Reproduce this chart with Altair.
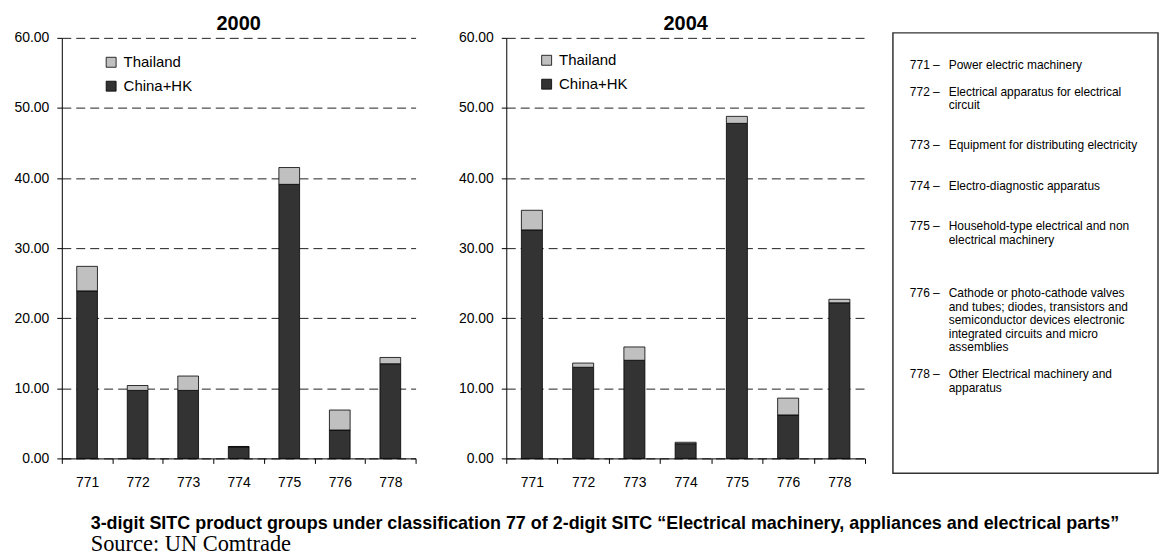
import altair as alt
import pandas as pd

# ---------------- data ----------------
codes = ["771", "772", "773", "774", "775", "776", "778"]
china_2000 = [23.9, 9.7, 9.7, 1.65, 39.1, 4.05, 13.5]
thai_2000 = [3.5, 0.7, 2.05, 0.05, 2.4, 2.85, 0.9]
china_2004 = [32.6, 13.0, 14.0, 2.1, 47.8, 6.2, 22.2]
thai_2004 = [2.8, 0.6, 1.9, 0.2, 1.0, 2.4, 0.5]
years = ["2000", "2004"]
series = ["Thailand", "China+HK"]
series_colors = ["#c0c0c0", "#333333"]
y_ticks = [0, 10, 20, 30, 40, 50, 60]

box_codes = ["771", "772", "773", "774", "775", "776", "778"]
box_desc = [
    ["Power electric machinery"],
    ["Electrical apparatus for electrical", "circuit"],
    ["Equipment for distributing electricity"],
    ["Electro-diagnostic apparatus"],
    ["Household-type electrical and non", "electrical machinery"],
    ["Cathode or photo-cathode valves", "and tubes;  diodes, transistors and",
     "semiconductor devices electronic", "integrated circuits and micro", "assemblies"],
    ["Other Electrical machinery and", "apparatus"],
]
caption = ("3-digit SITC product groups under classification 77 of 2-digit SITC "
           "\u201cElectrical machinery, appliances and electrical parts\u201d")
source = "Source: UN Comtrade"

FONT = "Liberation Sans"


def panel(year, china, thai, width, leg_x, leg_y):
    df = pd.DataFrame({
        "code": codes + codes,
        "series": ["China+HK"] * len(codes) + ["Thailand"] * len(codes),
        "value": china + thai,
        "stackorder": [0] * len(codes) + [1] * len(codes),
    })
    return alt.Chart(
        df,
        title=alt.TitleParams(year, fontSize=20, fontWeight="bold", font=FONT,
                              color="black", offset=-3),
    ).mark_bar(stroke="black", strokeWidth=0.8,
               width=alt.RelativeBandSize(0.41)).encode(
        x=alt.X("code:N", sort=codes, title=None,
                scale=alt.Scale(paddingInner=0, paddingOuter=0),
                axis=alt.Axis(labelAngle=0, tickBand="extent", labelFontSize=14,
                              labelColor="black", labelPadding=12, tickSize=5,
                              tickColor="black", domainColor="black", grid=False)),
        y=alt.Y("value:Q", stack="zero", title=None,
                scale=alt.Scale(domain=[0, 60], nice=False),
                axis=alt.Axis(values=y_ticks, format=".2f", labelFontSize=14,
                              labelColor="black", labelPadding=8, tickSize=5,
                              tickColor="black", domainColor="black", grid=True,
                              gridColor="#222222", gridDash=[9, 5], gridWidth=1)),
        color=alt.Color("series:N",
                        scale=alt.Scale(domain=series, range=series_colors),
                        legend=alt.Legend(orient="none", legendX=leg_x, legendY=leg_y,
                                          title=None, symbolType="square",
                                          symbolSize=100, symbolStrokeColor="black",
                                          symbolStrokeWidth=0.8, labelFontSize=15,
                                          labelColor="black", labelOffset=5,
                                          rowPadding=8, padding=0)),
        order=alt.Order("stackorder:Q", sort="ascending"),
    ).properties(width=width, height=422)


p2000 = panel(years[0], china_2000, thai_2000, 355, 42, 17)
p2004 = panel(years[1], china_2004, thai_2004, 360, 33, 15)

# ---------------- description box ----------------
gap_after = [1, 2, 2, 2, 3, 1, 0]   # blank text lines after each item
rows = []
r = 0
for code, lines, gap in zip(box_codes, box_desc, gap_after):
    for j, line in enumerate(lines):
        rows.append({"row": r, "code": (code + " \u2013") if j == 0 else "", "desc": line})
        r += 1
    r += gap
box_df = pd.DataFrame(rows)

BOX_W = 266
BOX_H = 442
BOX_TOP = -5      # frame sits a little above the panels' plot top
PITCH = 13.5
FIRST = 27
yscale = alt.Scale(domain=[-FIRST / PITCH, (BOX_H - FIRST) / PITCH],
                   reverse=True, nice=False, zero=False)

box_base = alt.Chart(box_df)
code_txt = box_base.mark_text(align="left", baseline="middle", fontSize=12,
                              font=FONT, color="black").encode(
    x=alt.value(17), y=alt.Y("row:Q", scale=yscale, axis=None), text="code:N")
desc_txt = box_base.mark_text(align="left", baseline="middle", fontSize=12,
                              font=FONT, color="black").encode(
    x=alt.value(56), y=alt.Y("row:Q", scale=yscale, axis=None), text="desc:N")
frame = alt.Chart(alt.Data(values=[{}])).mark_rect(
    fill="white", fillOpacity=0, stroke="#333333", strokeWidth=1.5).encode(
    x=alt.value(0), x2=alt.value(BOX_W),
    y=alt.value(BOX_TOP), y2=alt.value(BOX_TOP + BOX_H))

box = alt.layer(frame, code_txt, desc_txt).properties(width=BOX_W, height=BOX_H)

chart = alt.hconcat(
    alt.hconcat(p2000, p2004, spacing=41).resolve_scale(color="independent", y="independent", x="independent").resolve_legend(color="independent"),
    box,
    spacing=26,
).resolve_scale(color="independent").properties(
    title=alt.TitleParams(caption, subtitle=source, orient="bottom", anchor="start",
                          dx=77, offset=26, font=FONT, fontSize=18, fontWeight="bold",
                          color="black", subtitleFont="Liberation Serif",
                          subtitleFontSize=22.5, subtitleColor="black",
                          subtitlePadding=0),
    padding={"left": 5, "top": 5, "right": 0, "bottom": 5},
).configure(font=FONT).configure_view(strokeWidth=0)

chart.save("out.html", embed_options={"renderer": "svg", "actions": False})
